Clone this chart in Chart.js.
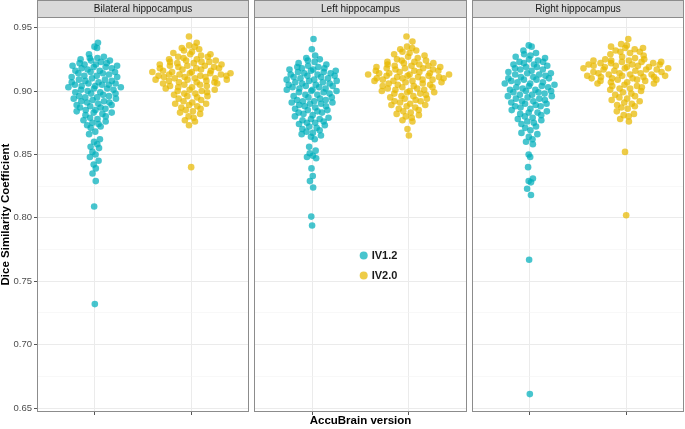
<!DOCTYPE html>
<html>
<head>
<meta charset="utf-8">
<script src="https://cdn.jsdelivr.net/npm/chart.js@4.4.1/dist/chart.umd.min.js"></script>
<style>
  body { margin: 0; background: #fff; width: 685px; height: 429px; overflow: hidden; position: relative; }
  .panel { position: absolute; top: 0; height: 429px; }
</style>
</head>
<body>
<div class="panel" style="left:0;width:249px"><canvas id="c1"></canvas></div>
<div class="panel" style="left:254px;width:213px"><canvas id="c2"></canvas></div>
<div class="panel" style="left:472px;width:212px"><canvas id="c3"></canvas></div>
<script>
const versions = ["IV1.2", "IV2.0"];
const panels = ["Bilateral hippocampus", "Left hippocampus", "Right hippocampus"];
const yMajor = [0.65, 0.70, 0.75, 0.80, 0.85, 0.90, 0.95];
const yMinor = [0.675, 0.725, 0.775, 0.825, 0.875, 0.925];

const bilateralV12 = [0.938, 0.935, 0.934,
  0.929, 0.927, 0.926, 0.926, 0.925,
  0.924, 0.924, 0.923, 0.922, 0.922, 0.921, 0.921, 0.920, 0.920,
  0.919, 0.919, 0.918, 0.918, 0.917, 0.916, 0.916, 0.915, 0.915, 0.914, 0.914, 0.913, 0.912, 0.912, 0.911, 0.911, 0.910,
  0.909, 0.909, 0.908, 0.908, 0.907, 0.907, 0.906, 0.906, 0.905, 0.905, 0.905, 0.904, 0.904, 0.903, 0.903, 0.902, 0.902, 0.901, 0.901, 0.900,
  0.899, 0.899, 0.898, 0.898, 0.897, 0.896, 0.896, 0.895, 0.895, 0.894, 0.894, 0.893, 0.892, 0.892, 0.891, 0.891, 0.890,
  0.889, 0.889, 0.888, 0.887, 0.887, 0.886, 0.885, 0.885, 0.884, 0.883, 0.883, 0.882, 0.881, 0.880,
  0.879, 0.878, 0.877, 0.876, 0.875,
  0.874, 0.873, 0.872, 0.871,
  0.868, 0.866, 0.862, 0.860, 0.858, 0.856, 0.855, 0.852, 0.850, 0.848, 0.845, 0.842, 0.839, 0.835, 0.829, 0.809, 0.732];

const bilateralV20 = [0.943, 0.938,
  0.936, 0.935, 0.934, 0.933, 0.932, 0.931, 0.930,
  0.929, 0.929, 0.928, 0.927, 0.927, 0.926, 0.925, 0.925,
  0.924, 0.924, 0.923, 0.923, 0.923, 0.922, 0.922, 0.921, 0.921, 0.920, 0.920, 0.920, 0.919, 0.919, 0.918, 0.918, 0.918, 0.917, 0.917, 0.916, 0.916, 0.915, 0.915, 0.915,
  0.914, 0.914, 0.914, 0.913, 0.913, 0.913, 0.912, 0.912, 0.912, 0.911, 0.911, 0.911, 0.910, 0.910, 0.910, 0.909, 0.909, 0.909, 0.908, 0.908, 0.907, 0.907, 0.907, 0.906, 0.906, 0.905, 0.905,
  0.904, 0.904, 0.903, 0.903, 0.902, 0.901, 0.901, 0.900, 0.900, 0.899, 0.898, 0.898, 0.897, 0.896, 0.896, 0.895,
  0.894, 0.893, 0.892, 0.891, 0.890, 0.890, 0.889, 0.888, 0.887, 0.886, 0.885,
  0.884, 0.883, 0.882, 0.880, 0.879, 0.877, 0.876,
  0.873, 0.840];

const leftV12 = [0.941, 0.933, 0.928,
  0.926, 0.925, 0.924, 0.923, 0.922, 0.921, 0.920,
  0.919, 0.919, 0.918, 0.918, 0.917, 0.917, 0.916, 0.916, 0.915, 0.915, 0.914, 0.914, 0.913, 0.913, 0.912, 0.912, 0.911, 0.911, 0.910, 0.910,
  0.909, 0.909, 0.908, 0.908, 0.907, 0.907, 0.906, 0.906, 0.905, 0.905, 0.904, 0.904, 0.903, 0.903, 0.902, 0.902, 0.901, 0.901, 0.900, 0.900,
  0.899, 0.899, 0.898, 0.897, 0.897, 0.896, 0.895, 0.895, 0.894, 0.893, 0.893, 0.892, 0.892, 0.891, 0.891, 0.890, 0.890,
  0.889, 0.888, 0.888, 0.887, 0.886, 0.885, 0.885, 0.884, 0.883, 0.883, 0.882, 0.881, 0.880,
  0.879, 0.878, 0.878, 0.877, 0.876, 0.875, 0.875, 0.874, 0.873, 0.872, 0.871, 0.870,
  0.869, 0.868, 0.867, 0.866, 0.865, 0.864, 0.862,
  0.856, 0.853, 0.851, 0.849, 0.848, 0.847, 0.839, 0.833, 0.829, 0.824, 0.801, 0.794];

const leftV20 = [0.943, 0.939, 0.935,
  0.934, 0.933, 0.932, 0.931, 0.930, 0.929, 0.928, 0.927, 0.926,
  0.925, 0.924, 0.924, 0.923, 0.923, 0.922, 0.922, 0.921, 0.921, 0.920, 0.920, 0.920, 0.919, 0.919, 0.918, 0.918, 0.918, 0.917, 0.917, 0.916, 0.916, 0.916, 0.915, 0.915,
  0.914, 0.914, 0.914, 0.913, 0.913, 0.913, 0.912, 0.912, 0.912, 0.911, 0.911, 0.911, 0.910, 0.910, 0.910, 0.909, 0.909, 0.909, 0.908, 0.908, 0.908, 0.907, 0.907, 0.906, 0.906, 0.905, 0.905,
  0.904, 0.904, 0.903, 0.903, 0.902, 0.902, 0.901, 0.901, 0.900, 0.900, 0.899, 0.899, 0.898, 0.898, 0.897, 0.896, 0.896, 0.895,
  0.894, 0.894, 0.893, 0.892, 0.892, 0.891, 0.890, 0.889, 0.889, 0.888, 0.887, 0.886, 0.885,
  0.884, 0.883, 0.882, 0.881, 0.880, 0.879, 0.877, 0.876,
  0.870, 0.865];

const rightV12 = [0.936, 0.935,
  0.932, 0.930, 0.929, 0.928, 0.927, 0.926,
  0.925, 0.924, 0.923, 0.923, 0.922, 0.921, 0.921, 0.920, 0.919, 0.919, 0.918, 0.917, 0.917, 0.916, 0.915,
  0.914, 0.914, 0.913, 0.913, 0.912, 0.911, 0.911, 0.910, 0.910, 0.909, 0.909, 0.908, 0.907, 0.907, 0.906, 0.906, 0.905,
  0.904, 0.904, 0.903, 0.903, 0.902, 0.901, 0.901, 0.900, 0.900, 0.899, 0.899, 0.898, 0.897, 0.897, 0.896, 0.896, 0.895,
  0.894, 0.894, 0.893, 0.892, 0.892, 0.891, 0.890, 0.890, 0.889, 0.888, 0.888, 0.887, 0.886, 0.885,
  0.884, 0.883, 0.883, 0.882, 0.881, 0.880, 0.879, 0.878, 0.877, 0.876, 0.875,
  0.874, 0.872, 0.871, 0.869, 0.867, 0.866,
  0.864, 0.862, 0.860, 0.858,
  0.850, 0.848, 0.840, 0.831, 0.829, 0.828, 0.823, 0.818, 0.767, 0.661];

const rightV20 = [0.941,
  0.937, 0.936, 0.935, 0.934, 0.934, 0.933, 0.932, 0.931, 0.931, 0.930, 0.929, 0.928, 0.927, 0.926,
  0.925, 0.925, 0.924, 0.924, 0.924, 0.923, 0.923, 0.923, 0.922, 0.922, 0.922, 0.921, 0.921, 0.921, 0.920, 0.920, 0.920, 0.919, 0.919, 0.919, 0.918, 0.918, 0.918, 0.917, 0.917, 0.917, 0.916, 0.916, 0.915, 0.915,
  0.914, 0.914, 0.914, 0.913, 0.913, 0.913, 0.912, 0.912, 0.912, 0.911, 0.911, 0.911, 0.910, 0.910, 0.910, 0.909, 0.909, 0.909, 0.908, 0.908,
  0.907, 0.907, 0.906, 0.906, 0.905, 0.904, 0.904, 0.903, 0.902, 0.902, 0.901, 0.900,
  0.899, 0.898, 0.897, 0.896, 0.895, 0.894, 0.893, 0.892, 0.891,
  0.890, 0.889, 0.888, 0.887, 0.886, 0.884, 0.882,
  0.881, 0.880, 0.878, 0.876,
  0.852, 0.802];

const colors = ["rgba(0,175,187,0.72)", "rgba(231,184,0,0.72)"];
const FONT = "'Liberation Sans', Arial, sans-serif";
Chart.defaults.font.family = FONT;

// quasirandom spread: van der Corput by rank, scaled by kernel density
function vdc(i) {
  let v = 0, f = 0.5;
  while (i > 0) { v += f * (i & 1); i >>= 1; f /= 2; }
  return v;
}
function density(y) {
  const n = y.length;
  const mean = y.reduce((s, v) => s + v, 0) / n;
  const sd = Math.sqrt(y.reduce((s, v) => s + (v - mean) ** 2, 0) / (n - 1));
  const sorted = y.slice().sort((a, b) => a - b);
  const q = p => { const h = (n - 1) * p, lo = Math.floor(h); return sorted[lo] + (h - lo) * ((sorted[lo + 1] ?? sorted[lo]) - sorted[lo]); };
  const bw = 0.5 * 0.9 * Math.min(sd, (q(0.75) - q(0.25)) / 1.34) * Math.pow(n, -0.2);
  return y.map(v => y.reduce((s, w) => s + Math.exp(-0.5 * ((v - w) / bw) ** 2), 0) / (n * bw * Math.sqrt(2 * Math.PI)));
}
function spread(groups, width) {
  const dens = groups.map(density);
  const maxD = Math.max(...dens.map(d => Math.max(...d)));
  return groups.map((y, g) => {
    const order = y.map((v, i) => i).sort((a, b) => y[a] - y[b] || a - b);
    const off = new Array(y.length);
    order.forEach((idx, r) => { off[idx] = (vdc(r + 1) - 0.5) * 2 * width * dens[g][idx] / maxD; });
    return off;
  });
}

const stripPlugin = {
  id: 'strip',
  afterDatasetsDraw(chart, args, opts) {
    const { ctx, chartArea: a } = chart;
    ctx.save();
    ctx.fillStyle = '#d9d9d9';
    ctx.fillRect(a.left, 0.5, a.right - a.left, a.top - 0.5);
    ctx.strokeStyle = '#8c8c8c';
    ctx.lineWidth = 1;
    ctx.strokeRect(a.left + 0.5, 0.5, a.right - a.left - 1, a.top);
    ctx.strokeRect(a.left + 0.5, a.top + 0.5, a.right - a.left - 1, a.bottom - a.top - 1);
    ctx.fillStyle = '#1a1a1a';
    ctx.font = '10px ' + FONT;
    ctx.textAlign = 'center';
    ctx.textBaseline = 'middle';
    ctx.fillText(opts.text, (a.left + a.right) / 2, a.top / 2 + 0.5);
    ctx.restore();
  }
};

const legendPlugin = {
  id: 'facetLegend',
  afterDatasetsDraw(chart, args, opts) {
    if (!opts.show) return;
    const { ctx, chartArea: a } = chart;
    const x = a.left + 0.515 * (a.right - a.left);
    const y0 = a.top + 0.604 * (a.bottom - a.top);
    ctx.save();
    ctx.font = 'bold 11px ' + FONT;
    ctx.textBaseline = 'middle';
    chart.data.datasets.forEach((ds, k) => {
      const y = y0 + k * 20;
      ctx.fillStyle = ds.backgroundColor;
      ctx.beginPath();
      ctx.arc(x, y, 4, 0, Math.PI * 2);
      ctx.fill();
      ctx.fillStyle = '#1a1a1a';
      ctx.fillText(ds.label, x + 8, y + 0.5);
    });
    ctx.restore();
  }
};

const isMajor = v => yMajor.some(m => Math.abs(m - v) < 1e-6);

function makePanel(id, title, groups, offsets, first, middle) {
  return new Chart(document.getElementById(id), {
    type: 'scatter',
    data: {
      datasets: groups.map((vals, k) => ({
        label: versions[k],
        data: vals.map((v, i) => ({ x: k + 1 + offsets[k][i], y: v })),
        backgroundColor: colors[k],
        borderWidth: 0,
        pointRadius: 3.3,
        pointHoverRadius: 3.3
      }))
    },
    options: {
      responsive: true,
      maintainAspectRatio: false,
      animation: false,
      layout: { autoPadding: false, padding: { top: 17, left: 0, right: 0, bottom: 0 } },
      plugins: {
        legend: { display: false },
        tooltip: { enabled: false },
        strip: { text: title },
        facetLegend: { show: middle }
      },
      scales: {
        x: {
          type: 'linear',
          min: 0.4,
          max: 2.6,
          afterBuildTicks: s => { s.ticks = [{ value: 1 }, { value: 2 }]; },
          afterFit: s => { s.height = 17; },
          ticks: { display: false },
          grid: { color: '#ebebeb', lineWidth: 1, tickLength: 3, tickColor: '#555' },
          border: { display: false },
          title: {
            display: middle,
            text: 'AccuBrain version',
            color: '#000',
            font: { size: 11.5, weight: 'bold' },
            padding: { top: 0, bottom: 1 }
          }
        },
        y: {
          min: 0.6469,
          max: 0.9584,
          afterBuildTicks: s => {
            s.ticks = yMajor.concat(yMinor).sort((p, q) => p - q).map(v => ({ value: v }));
          },
          afterFit: s => { s.width = first ? 37 : 0; },
          ticks: {
            display: first,
            color: '#4d4d4d',
            font: { size: 9.5 },
            padding: 2,
            callback: v => isMajor(v) ? v.toFixed(2) : ''
          },
          grid: {
            drawTicks: first,
            tickLength: 3,
            color: c => isMajor(c.tick.value) ? '#ebebeb' : '#f4f4f4',
            lineWidth: c => isMajor(c.tick.value) ? 1 : 0.6,
            tickColor: c => isMajor(c.tick.value) ? '#555' : 'rgba(0,0,0,0)'
          },
          border: { display: false },
          title: {
            display: first,
            text: 'Dice Similarity Coefficient',
            color: '#000',
            font: { size: 11.5, weight: 'bold', lineHeight: 1 },
            padding: { top: 0, bottom: 0 }
          }
        }
      }
    },
    plugins: [stripPlugin, legendPlugin]
  });
}

const allGroups = [[bilateralV12, bilateralV20], [leftV12, leftV20], [rightV12, rightV20]];
const allOffsets = spread(allGroups.flat(), 0.46);
makePanel('c1', panels[0], allGroups[0], allOffsets.slice(0, 2), true, false);
makePanel('c2', panels[1], allGroups[1], allOffsets.slice(2, 4), false, true);
makePanel('c3', panels[2], allGroups[2], allOffsets.slice(4, 6), false, false);
</script>
</body>
</html>
